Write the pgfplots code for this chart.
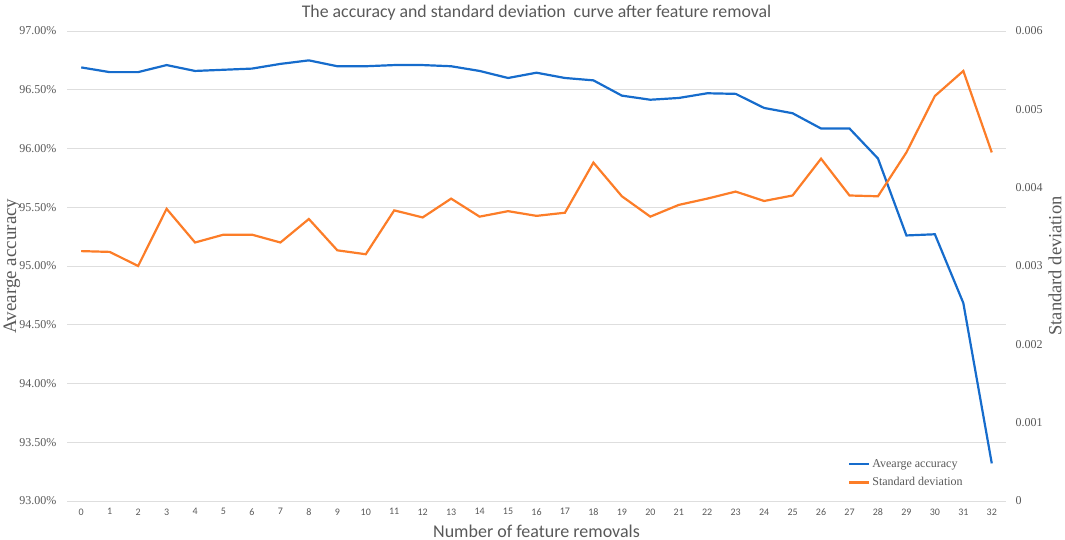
\documentclass[border=0pt]{standalone}
\usepackage{fontspec}
\setmainfont{Liberation Serif}
\newfontfamily\calibri{Carlito}
\usepackage{pgfplots}
\pgfplotsset{compat=1.18}

\definecolor{accblue}{RGB}{22,108,204}
\definecolor{sdorange}{RGB}{252,125,40}
\definecolor{txtgray}{RGB}{89,89,89}
\definecolor{gridgray}{RGB}{222,222,222}

\pgfplotsset{
  base/.style={
    scale only axis, width=939pt, height=470pt,
    at={(67pt,39pt)}, anchor=south west,
    xmin=-0.5, xmax=32.5,
    xtick={0,...,32},
    major tick length=0pt,
    /pgf/number format/assume math mode=true,
    tick label style={txtgray},
    label style={txtgray},
  },
}

\begin{document}
\begin{tikzpicture}
\useasboundingbox (0,0) rectangle (1065pt,540pt);

% left axis: accuracy in percent
\begin{axis}[base,
  ymin=93, ymax=97, ytick={93,93.5,...,97},
  axis x line*=bottom, axis y line*=left,
  x axis line style={gridgray},
  y axis line style={draw=none},
  ymajorgrids, grid style={gridgray, line width=0.8pt},
  xticklabel style={font=\calibri\fontsize{10}{12}\selectfont, yshift=-4pt},
  yticklabel={\pgfmathprintnumber[fixed,fixed zerofill,precision=2]{\tick}\%},
  yticklabel style={font=\rmfamily\fontsize{12}{14}\selectfont, xshift=-7pt},
  xlabel={Number of feature removals},
  xlabel style={font=\calibri\fontsize{18}{20}\selectfont, at={(axis description cs:0.5,-0.064)}, anchor=center},
  ylabel={Avearge accuracy},
  ylabel style={font=\rmfamily\fontsize{19}{21}\selectfont, at={(axis description cs:-0.0586,0.5)}, anchor=center},
  title={The accuracy and standard deviation\ \ curve after feature removal},
  title style={font=\calibri\fontsize{17.8}{20}\selectfont, txtgray, at={(axis description cs:0.5,1.0256)}, anchor=center, yshift=0pt},
]
\addplot[accblue, line width=2.2pt] coordinates {
(0,96.69) (1,96.65) (2,96.65) (3,96.71) (4,96.66) (5,96.67) (6,96.68) (7,96.72)
(8,96.75) (9,96.70) (10,96.70) (11,96.71) (12,96.71) (13,96.70) (14,96.66) (15,96.60)
(16,96.645) (17,96.60) (18,96.58) (19,96.45) (20,96.415) (21,96.43) (22,96.47) (23,96.465)
(24,96.345) (25,96.30) (26,96.17) (27,96.17) (28,95.915) (29,95.26) (30,95.27) (31,94.685)
(32,93.32)
};
\end{axis}

% right axis: standard deviation
\begin{axis}[base,
  ymin=0, ymax=0.006, ytick={0,0.001,...,0.006},
  axis x line=none, axis y line*=right,
  y axis line style={draw=none},
  scaled y ticks=false,
  yticklabel style={font=\rmfamily\fontsize{12}{14}\selectfont, /pgf/number format/fixed, /pgf/number format/precision=3, xshift=6pt},
  ylabel={Standard deviation},
  ylabel style={font=\rmfamily\fontsize{18.5}{20}\selectfont, at={(axis description cs:1.0522,0.5)}, anchor=center},
  legend style={draw=none, fill=none, at={(axis description cs:0.8285,0.098)}, anchor=north west,
    font=\rmfamily\fontsize{12}{14}\selectfont, text=txtgray, row sep=5pt,
    /tikz/every even column/.append style={column sep=0pt}},
  legend cell align=left,
  legend image code/.code={\draw[#1] (0pt,0pt) -- (20pt,0pt);},
]
\addlegendimage{accblue, line width=2.2pt}
\addlegendentry{Avearge accuracy}
\addplot[sdorange, line width=2.2pt] coordinates {
(0,0.00319) (1,0.00318) (2,0.00300) (3,0.00373) (4,0.00330) (5,0.00340) (6,0.00340) (7,0.00330)
(8,0.00360) (9,0.00320) (10,0.00315) (11,0.00371) (12,0.00362) (13,0.00386) (14,0.00363) (15,0.00370)
(16,0.00364) (17,0.00368) (18,0.00432) (19,0.00389) (20,0.00363) (21,0.00378) (22,0.00386) (23,0.00395)
(24,0.00383) (25,0.00390) (26,0.00437) (27,0.00390) (28,0.00389) (29,0.00445) (30,0.00517) (31,0.00549)
(32,0.00445)
};
\addlegendentry{Standard deviation}
\end{axis}
\end{tikzpicture}
\end{document}
